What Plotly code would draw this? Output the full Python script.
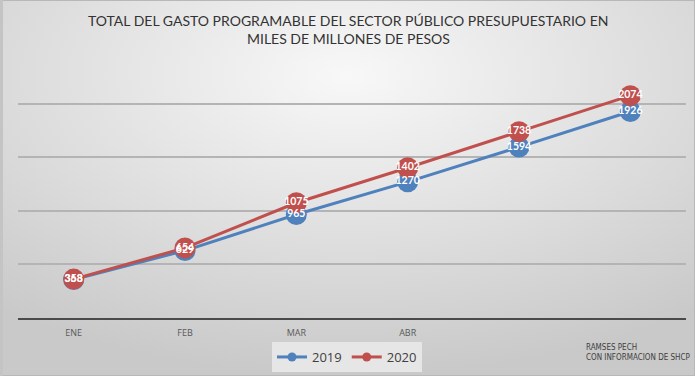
import base64
import plotly.graph_objects as go

months = ["ENE", "FEB", "MAR", "ABR", "MAY", "JUN"]
tick_labels = ["ENE", "FEB", "MAR", "ABR", "", ""]
values_2019 = [358, 629, 965, 1270, 1594, 1926]
values_2020 = [363, 654, 1075, 1402, 1738, 2074]

BLUE = "#4F81BD"
RED = "#C0504D"

W, H = 695, 376
ML, MR, MT, MB = 18, 9, 50, 58
PW, PH = W - ML - MR, H - MT - MB

svg = """<svg xmlns='http://www.w3.org/2000/svg' width='695' height='376' preserveAspectRatio='none'>
<defs><radialGradient id='g' cx='50%' cy='20%' r='80%'>
<stop offset='0%' stop-color='#f8f8f8'/><stop offset='100%' stop-color='#c9c9c9'/>
</radialGradient></defs>
<rect width='695' height='376' fill='url(#g)'/>
<rect x='0.5' y='0.5' width='694' height='375' fill='none' stroke='#b8b8b8' stroke-width='1'/>
<rect x='0' y='0' width='3' height='376' fill='#c4c4c4'/></svg>"""
bg_uri = "data:image/svg+xml;base64," + base64.b64encode(svg.encode()).decode()

fig = go.Figure()
series = [("2019", values_2019, BLUE), ("2020", values_2020, RED)]
for name, vals, col in series:
    fig.add_trace(go.Scatter(
        x=months, y=vals, name=name, mode="lines+markers",
        line=dict(color=col, width=3),
        marker=dict(color=col, size=21),
        cliponaxis=False, showlegend=False,
    ))
for name, vals, col in series:
    fig.add_trace(go.Scatter(
        x=months, y=vals, mode="text",
        text=[str(v) for v in vals], textposition="middle center",
        textfont=dict(color="white", size=10.5, family="Lato", weight="bold"),
        cliponaxis=False, showlegend=False, hoverinfo="skip",
    ))
for name, col in [("2019", BLUE), ("2020", RED)]:
    fig.add_trace(go.Scatter(
        x=[None], y=[None], name=name, mode="lines+markers",
        line=dict(color=col, width=3), marker=dict(color=col, size=9),
    ))


def px_x(p):
    return (p - ML) / PW


def px_y(p):
    return (H - MB - p) / PH


fig.update_layout(
    width=W, height=H,
    margin=dict(l=ML, r=MR, t=MT, b=MB, autoexpand=False),
    paper_bgcolor="#dcdcdc", plot_bgcolor="rgba(0,0,0,0)",
    images=[dict(source=bg_uri, xref="paper", yref="paper", x=px_x(0), y=px_y(0),
                 sizex=W / PW, sizey=H / PH, xanchor="left", yanchor="top",
                 sizing="stretch", layer="below")],
    xaxis=dict(type="category", range=[-0.5, 5.5], tickmode="array",
               tickvals=months, ticktext=tick_labels, showgrid=False,
               showline=True, linecolor="#4a4a4a", linewidth=2,
               ticks="outside", ticklen=5, tickcolor="rgba(0,0,0,0)",
               tickfont=dict(family="Open Sans", size=9, color="#595959"),
               zeroline=False, automargin=False),
    yaxis=dict(range=[0, 2500], tickvals=[500, 1000, 1500, 2000, 2500],
               showticklabels=False, showgrid=True, gridcolor="#b4b4b4",
               gridwidth=1.5, zeroline=False, showline=False, automargin=False),
    legend=dict(orientation="h", x=px_x(347), xanchor="center", y=px_y(342), yanchor="top",
                bgcolor="#e6e6e6", font=dict(family="Open Sans", size=13, color="#404040"),
                itemwidth=30, tracegroupgap=0),
    showlegend=True,
    annotations=[
        dict(text="TOTAL DEL GASTO PROGRAMABLE DEL SECTOR PÚBLICO PRESUPUESTARIO EN",
             xref="paper", yref="paper", x=px_x(348), y=px_y(20), xanchor="center",
             yanchor="middle", showarrow=False,
             font=dict(family="Lato", size=14, color="#333333")),
        dict(text="MILES DE MILLONES DE PESOS",
             xref="paper", yref="paper", x=px_x(348), y=px_y(39), xanchor="center",
             yanchor="middle", showarrow=False,
             font=dict(family="Lato", size=14, color="#333333")),
        dict(text="RAMSES PECH<br>CON INFORMACION DE SHCP", xref="paper", yref="paper",
             x=px_x(584), y=px_y(341), xanchor="left", yanchor="top", align="left",
             showarrow=False,
             font=dict(family="DejaVu Sans Condensed", size=8, color="#404040")),
    ],
)
fig.write_html("out.html", config={"displayModeBar": False},
               post_script="document.body.style.margin='0';document.body.style.overflow='hidden';")
